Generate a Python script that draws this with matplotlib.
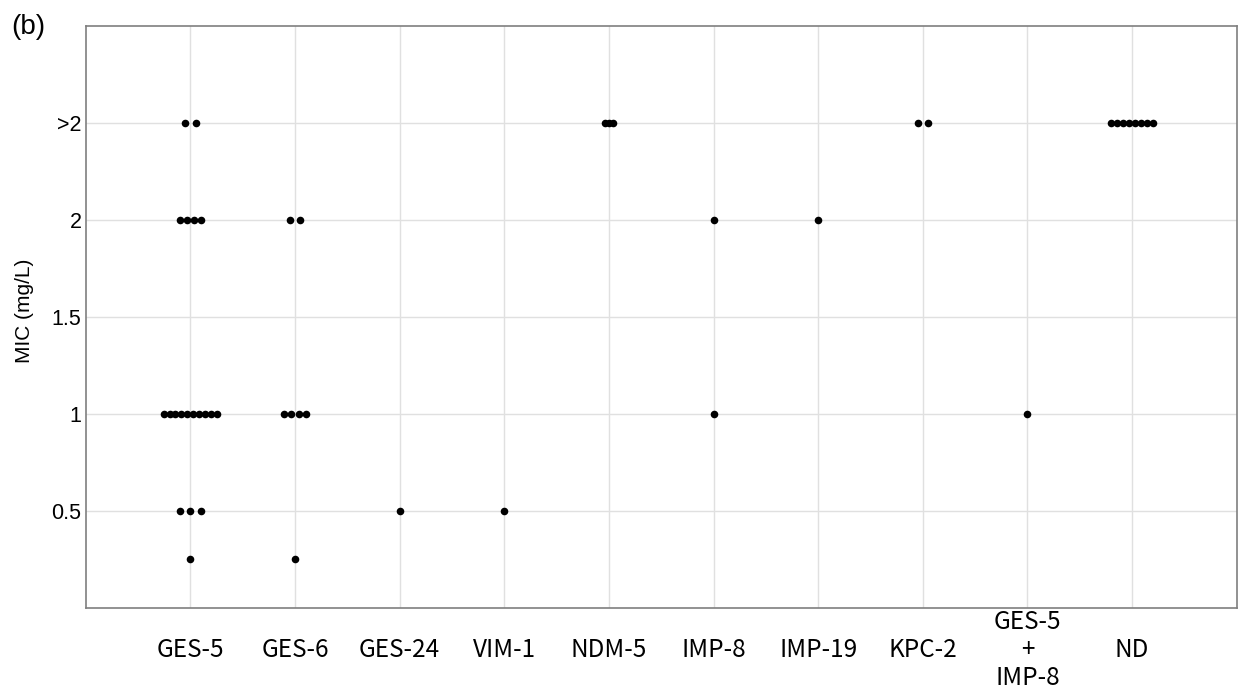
import numpy as np
import matplotlib.pyplot as plt

plt.rcParams['font.family'] = ['Liberation Sans', 'DejaVu Sans']

# categories and MIC values (">2" drawn at 2.5)
categories = ['GES-5', 'GES-6', 'GES-24', 'VIM-1', 'NDM-5',
              'IMP-8', 'IMP-19', 'KPC-2', 'GES-5\n+\nIMP-8', 'ND']
levels = [0.25, 0.5, 1, 2, 2.5]
# isolate counts per category at each level (same order as levels)
counts = [
    [1, 3, 10, 4, 2],   # GES-5
    [1, 0, 4, 2, 0],    # GES-6
    [0, 1, 0, 0, 0],    # GES-24
    [0, 1, 0, 0, 0],    # VIM-1
    [0, 0, 0, 0, 3],    # NDM-5
    [0, 0, 1, 1, 0],    # IMP-8
    [0, 0, 0, 1, 0],    # IMP-19
    [0, 0, 0, 0, 2],    # KPC-2
    [0, 0, 1, 0, 0],    # GES-5 + IMP-8
    [0, 0, 0, 0, 8],    # ND
]
yticks = [0.5, 1, 1.5, 2, 2.5]
yticklabels = ['0.5', '1', '1.5', '2', '>2']


def dot_step(cat, n):
    # horizontal spacing between stacked dots, in category units
    if cat == 'NDM-5':
        return 0.042
    if n <= 3:
        return 0.10
    if n <= 5:
        return 0.068
    return 0.057


fig = plt.figure(figsize=(12.39, 6.98), dpi=100)
ax = fig.add_axes([0.0692, 0.129, 0.9290, 0.8338])

xs, ys = [], []
for i, row in enumerate(counts):
    for lv, n in zip(levels, row):
        if n == 0:
            continue
        offs = (np.arange(n) - (n - 1) / 2) * dot_step(categories[i], n)
        xs.extend(i + 1 + offs)
        ys.extend([lv] * n)

ax.scatter(xs, ys, s=30, color='black', zorder=3, linewidths=0)

ax.set_xlim(0, 11)
ax.set_ylim(0, 3)
ax.set_xticks(range(1, 11))
ax.set_xticklabels(categories, fontsize=17.5, family=['Noto Sans CJK JP', 'DejaVu Sans'],
                   linespacing=1.1, va='center')
ax.set_yticks(yticks)
ax.set_yticklabels(yticklabels, fontsize=15.5)
ax.tick_params(length=0)
ax.tick_params(axis='x', pad=30)
ax.tick_params(axis='y', pad=3)
ax.grid(True, color='#e0e0e0', linewidth=1)
ax.set_axisbelow(True)
for sp in ax.spines.values():
    sp.set_color('#7f7f7f')
    sp.set_linewidth(1.2)

ax.set_ylabel('MIC (mg/L)', fontsize=15)
ax.yaxis.set_label_coords(-0.045, 0.51)
fig.text(0.009, 0.952, '(b)', fontsize=20)

fig.savefig('out.png', dpi=100)
